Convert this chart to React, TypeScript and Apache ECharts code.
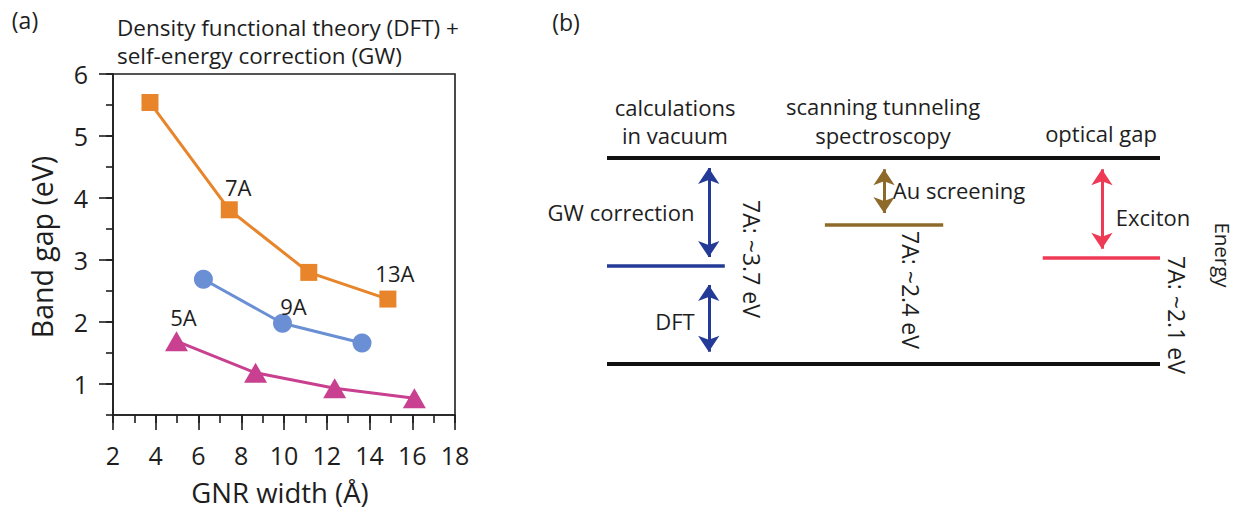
import React, { useEffect, useRef } from "react";
import * as echarts from "echarts";

const FONT = "'Open Sans', 'Noto Sans', sans-serif";
const INK = "#1e1e1e";

// ---------- Panel (a): band gap vs GNR width ----------
const xMin = 2;
const xMax = 18;
const yMin = 0.5;
const yMax = 6;
const yMajorTicks = [1, 2, 3, 4, 5, 6];

const squareWidth = [3.73, 7.44, 11.16, 14.86];
const squareGap = [5.54, 3.81, 2.8, 2.37];
const squareTags = ["", "7A", "", "13A"];

const circleWidth = [6.23, 9.93, 13.65];
const circleGap = [2.69, 1.98, 1.66];
const circleTags = ["", "9A", ""];

const triangleWidth = [4.97, 8.67, 12.37, 16.1];
const triangleGap = [1.69, 1.18, 0.93, 0.77];
const triangleTags = ["5A", "", "", ""];

// ---------- Panel (b): energy-level schematic (eV above lower edge) ----------
const edgeLevels = [3.7, 0];
const gapLevels = [1.76, 2.51, 1.9]; // DFT (vacuum), STS, optical
const gapSpans = [
  [0, 21.3],
  [39.4, 60.8],
  [78.8, 100],
];
const gapColors = ["#233A96", "#8E6A2A", "#EE3A55"];
const arrowX = [18.4, 18.4, 50.1, 89.5];
const arrowFrom = [3.52, 1.42, 3.5, 3.5];
const arrowTo = [1.92, 0.22, 2.71, 2.07];
const arrowColorIdx = [0, 0, 1, 2];

const tagOffsets: Record<string, number[]> = {
  "7A": [9, -23],
  "13A": [7, -26],
  "9A": [11, -17],
  "5A": [7, -24],
};

function points(xs: number[], ys: number[], tags: string[]) {
  return xs.map((x, i) => {
    const tag = tags[i];
    const item: any = { value: [x, ys[i]] };
    if (tag) {
      item.label = {
        show: true,
        formatter: tag,
        position: "inside",
        offset: tagOffsets[tag],
        color: INK,
        fontSize: 22,
        fontFamily: FONT,
      };
    }
    return item;
  });
}

function txt(text: string, x: number, y: number, size: number, opts: any = {}) {
  return {
    type: "text",
    x,
    y,
    rotation: opts.rotation || 0,
    style: {
      text,
      fill: INK,
      fontSize: size,
      fontFamily: FONT,
      textAlign: opts.align || "center",
      textVerticalAlign: "middle",
    },
  };
}

export default function App() {
  const ref = useRef<HTMLDivElement>(null);

  useEffect(() => {
    if (!ref.current) return;
    const chart = echarts.init(ref.current, undefined, { renderer: "svg" });

    const axisLine = { show: true, onZero: false, lineStyle: { color: INK, width: 1.6 } };

    const option: any = {
      animation: false,
      backgroundColor: "#ffffff",
      grid: [
        {
          left: 113,
          top: 74,
          width: 342,
          height: 341,
          show: true,
          borderColor: INK,
          borderWidth: 1.6,
          backgroundColor: "transparent",
        },
        { left: 607, top: 158, width: 553, height: 206, show: false },
      ],
      xAxis: [
        {
          gridIndex: 0,
          type: "value",
          min: xMin,
          max: xMax,
          interval: 2,
          position: "bottom",
          axisLine,
          axisTick: { show: true, length: 15, lineStyle: { color: INK, width: 1.6 } },
          axisLabel: { color: INK, fontSize: 25, fontFamily: FONT, margin: 27 },
          splitLine: { show: false },
        },
        {
          gridIndex: 0,
          type: "value",
          min: xMin,
          max: xMax,
          interval: 1,
          position: "bottom",
          axisLine: { show: false, onZero: false },
          axisTick: { show: true, length: 8, lineStyle: { color: INK, width: 1.6 } },
          axisLabel: { show: false },
          splitLine: { show: false },
        },
        { gridIndex: 1, type: "value", min: 0, max: 100, show: false },
      ],
      yAxis: [
        {
          gridIndex: 0,
          type: "value",
          min: yMin,
          max: yMax,
          interval: 0.5,
          axisLine,
          axisTick: { show: true, length: 7, lineStyle: { color: INK, width: 1.6 } },
          axisLabel: {
            color: INK,
            fontSize: 25,
            fontFamily: FONT,
            margin: 25,
            formatter: (v: number) =>
              Math.abs(v - Math.round(v)) < 1e-6 && v >= 1 ? String(Math.round(v)) : "",
          },
          splitLine: { show: false },
        },
        { gridIndex: 1, type: "value", min: 0, max: 3.7, show: false },
      ],
      series: [
        {
          type: "line",
          xAxisIndex: 0,
          yAxisIndex: 0,
          data: points(squareWidth, squareGap, squareTags),
          symbol: "rect",
          symbolSize: 17,
          itemStyle: { color: "#E8842A" },
          lineStyle: { color: "#E8842A", width: 3 },
          emphasis: { disabled: true },
        },
        {
          type: "line",
          xAxisIndex: 0,
          yAxisIndex: 0,
          data: points(circleWidth, circleGap, circleTags),
          symbol: "circle",
          symbolSize: 19,
          itemStyle: { color: "#6A8FD4" },
          lineStyle: { color: "#6A8FD4", width: 3 },
          emphasis: { disabled: true },
        },
        {
          type: "line",
          xAxisIndex: 0,
          yAxisIndex: 0,
          data: points(triangleWidth, triangleGap, triangleTags),
          symbol: "triangle",
          symbolSize: [23, 20],
          itemStyle: { color: "#C8408F" },
          lineStyle: { color: "#C8408F", width: 3 },
          emphasis: { disabled: true },
        },
        {
          type: "custom",
          xAxisIndex: 0,
          yAxisIndex: 0,
          clip: false,
          data: yMajorTicks.map((v) => [xMin, v]),
          encode: { x: 0, y: 1 },
          renderItem: (params: any, api: any) => {
            const p = api.coord([api.value(0), api.value(1)]);
            return {
              type: "line",
              shape: { x1: p[0] - 14, y1: p[1], x2: p[0], y2: p[1] },
              style: { stroke: INK, lineWidth: 1.6 },
            };
          },
        },
        {
          type: "lines",
          coordinateSystem: "cartesian2d",
          xAxisIndex: 2,
          yAxisIndex: 1,
          symbol: ["none", "none"],
          data: edgeLevels.map((y) => ({
            coords: [
              [0, y],
              [100, y],
            ],
          })),
          lineStyle: { color: "#111111", width: 4, opacity: 1, curveness: 0 },
        },
        {
          type: "lines",
          coordinateSystem: "cartesian2d",
          xAxisIndex: 2,
          yAxisIndex: 1,
          symbol: ["none", "none"],
          data: gapLevels.map((y, i) => ({
            coords: [
              [gapSpans[i][0], y],
              [gapSpans[i][1], y],
            ],
            lineStyle: { color: gapColors[i] },
          })),
          lineStyle: { width: 3.5, opacity: 1, curveness: 0 },
        },
        {
          type: "lines",
          coordinateSystem: "cartesian2d",
          xAxisIndex: 2,
          yAxisIndex: 1,
          symbol: ["arrow", "arrow"],
          symbolSize: 16,
          data: arrowX.map((x, i) => ({
            coords: [
              [x, arrowFrom[i]],
              [x, arrowTo[i]],
            ],
            lineStyle: { color: gapColors[arrowColorIdx[i]] },
            itemStyle: { color: gapColors[arrowColorIdx[i]] },
          })),
          lineStyle: { width: 3, opacity: 1, curveness: 0 },
        },
      ],
      graphic: [
        txt("(a)", 25, 20, 23),
        txt("Density functional theory (DFT) +", 117, 27, 22.5, { align: "left" }),
        txt("self-energy correction (GW)", 117, 55, 22.5, { align: "left" }),
        txt("Band gap (eV)", 42, 247, 28.5, { rotation: Math.PI / 2 }),
        txt("GNR width (Å)", 280, 492, 27.5),
        txt("(b)", 566, 22, 23),
        txt("calculations", 675, 107, 22),
        txt("in vacuum", 675, 135, 22),
        txt("scanning tunneling", 883, 106, 22),
        txt("spectroscopy", 883, 135, 22),
        txt("optical gap", 1101, 133, 22),
        txt("GW correction", 621, 212, 22),
        txt("DFT", 675, 321, 22),
        txt("Au screening", 959, 190, 22),
        txt("Exciton", 1153, 217, 22),
        txt("7A: ~3.7 eV", 752, 259, 23, { rotation: -Math.PI / 2 }),
        txt("7A: ~2.4 eV", 911, 290, 23, { rotation: -Math.PI / 2 }),
        txt("7A: ~2.1 eV", 1177, 315, 23, { rotation: -Math.PI / 2 }),
        txt("Energy", 1223, 255, 20.5, { rotation: -Math.PI / 2 }),
      ],
    };

    chart.setOption(option);
    return () => chart.dispose();
  }, []);

  return (
    <div
      ref={ref}
      style={{ position: "fixed", left: 0, top: 0, width: 1239, height: 511, background: "#fff" }}
    />
  );
}
